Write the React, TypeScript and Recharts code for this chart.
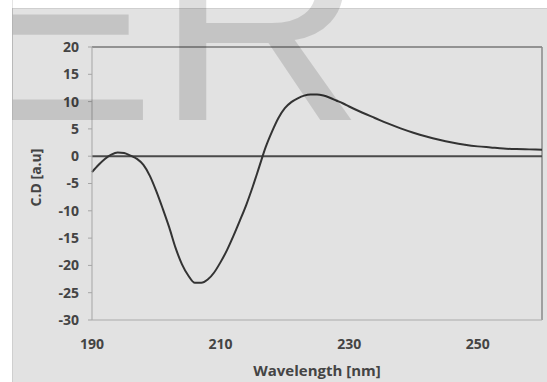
import React from "react";
import {
  LineChart,
  Line,
  XAxis,
  YAxis,
  ReferenceLine,
  Label,
} from "recharts";

// wavelength (nm) and CD signal
const wavelengths = [
  190, 191, 192, 193, 194, 195, 196, 197, 198, 199, 200, 201, 202, 203, 204,
  205, 206, 207, 208, 209, 210, 211, 212, 213, 214, 215, 216, 217, 218, 219,
  220, 221, 222, 223, 224, 225, 226, 227, 228, 229, 230, 232, 234, 236, 238,
  240, 242, 244, 246, 248, 250, 252, 254, 256, 258, 260,
];
const cdValues = [
  -2.9, -1.6, -0.5, 0.3, 0.7, 0.6, 0.1, -0.5, -1.6, -3.6, -6.4, -9.6, -13.0,
  -16.8, -19.8, -21.9, -23.2, -23.2, -22.6, -21.3, -19.4, -17.2, -14.6, -11.8,
  -8.9, -5.6, -2.0, 1.6, 4.5, 7.0, 8.8, 9.9, 10.6, 11.1, 11.3, 11.3, 11.1,
  10.7, 10.2, 9.7, 9.1, 8.0, 7.0, 6.0, 5.1, 4.3, 3.6, 3.0, 2.5, 2.1, 1.8, 1.6,
  1.4, 1.3, 1.25, 1.2,
];
const xTicks = [190, 210, 230, 250];
const yTicks = [-30, -25, -20, -15, -10, -5, 0, 5, 10, 15, 20];

const data = wavelengths.map((nm, i) => ({ nm, cd: cdValues[i] }));

const FONT = "'Open Sans', Lato, sans-serif";
const tickStyle = { fontFamily: FONT, fontSize: 14, fontWeight: 700, fill: "#444" };

const App = () => {
  return (
    <div
      style={{
        position: "absolute",
        left: 0,
        top: 0,
        width: 547,
        height: 382,
        background: "#fff",
        overflow: "hidden",
      }}
    >
      {/* chart area panel */}
      <div
        style={{
          position: "absolute",
          left: 12,
          top: 8,
          width: 535,
          height: 374,
          background: "#e2e2e2",
          borderLeft: "1px solid #cfcfcf",
          borderTop: "1px solid #cfcfcf",
        }}
      />
      <div style={{ position: "absolute", left: 0, top: 0 }}>
        <LineChart
          width={547}
          height={382}
          data={data}
          margin={{ top: 47, right: 5, bottom: 0, left: 0 }}
        >
          <XAxis
            dataKey="nm"
            type="number"
            domain={[190, 260]}
            ticks={xTicks}
            tickLine={false}
            tickSize={6}
            tickMargin={13}
            height={62}
            stroke="#aaa"
            tick={tickStyle}
          >
            <Label
              value="Wavelength [nm]"
              position="insideBottom"
              offset={6}
              style={{ fontFamily: FONT, fontSize: 15, fontWeight: 700, fill: "#444" }}
            />
          </XAxis>
          <YAxis
            type="number"
            domain={[-30, 20]}
            ticks={yTicks}
            width={92}
            tickSize={4}
            tickMargin={9}
            stroke="#a5a5a5"
            tick={tickStyle}
          >
            <Label
              value="C.D [a.u]"
              angle={-90}
              position="center"
              dx={-10}
              dy={-6}
              style={{ fontFamily: FONT, fontSize: 14, fontWeight: 700, fill: "#444" }}
            />
          </YAxis>
          <ReferenceLine y={20} stroke="#777" strokeWidth={1.5} />
          <ReferenceLine x={260} stroke="#888" strokeWidth={1.5} />
          <ReferenceLine y={0} stroke="#4a4a4a" strokeWidth={2} />
          <Line
            type="monotone"
            dataKey="cd"
            stroke="#333"
            strokeWidth={2}
            dot={false}
            isAnimationActive={false}
          />
        </LineChart>
      </div>
      {/* scanned watermark, cut off by the scan */}
      <svg
        width={535}
        height={130}
        style={{ position: "absolute", left: 12, top: 0, pointerEvents: "none" }}
      >
        <text
          x={-50}
          y={129}
          transform="scale(1,0.93)"
          fontFamily="'Liberation Sans', Arial, sans-serif"
          fontSize={290}
          fill="rgba(0,0,0,0.13)"
        >
          ER
        </text>
      </svg>
    </div>
  );
};

export default App;
